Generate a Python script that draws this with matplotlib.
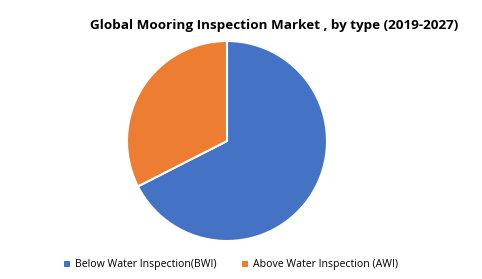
import matplotlib.pyplot as plt
from matplotlib.patches import Patch

labels = ['Below Water Inspection(BWI)', 'Above Water Inspection (AWI)']
shares = [67.5, 32.5]
colors = ['#4472C4', '#ED7D31']

plt.rcParams['font.family'] = ['Open Sans', 'DejaVu Sans']

fig = plt.figure(figsize=(4.82, 2.79), dpi=100)
ax = fig.add_axes([127 / 482, 38 / 279, 200 / 482, 200 / 279])
ax.pie(shares, colors=colors, startangle=90, counterclock=False, radius=1,
       wedgeprops=dict(edgecolor='white', linewidth=1.5))
ax.set_xlim(-1, 1)
ax.set_ylim(-1, 1)
ax.set_aspect('equal')

fig.text(274 / 482, 1 - 26 / 279, 'Global Mooring Inspection Market , by type (2019-2027)',
         ha='center', va='center', fontsize=9.7, fontweight='bold')

handles = [Patch(facecolor=c, edgecolor='none') for c in colors]
fig.legend(handles, labels, loc='center', bbox_to_anchor=(231 / 482, 1 - 265 / 279),
           ncol=2, frameon=False, fontsize=7.6, handlelength=0.55, handleheight=0.55,
           handletextpad=0.5, columnspacing=2.4)

fig.savefig('out.png', dpi=100)
